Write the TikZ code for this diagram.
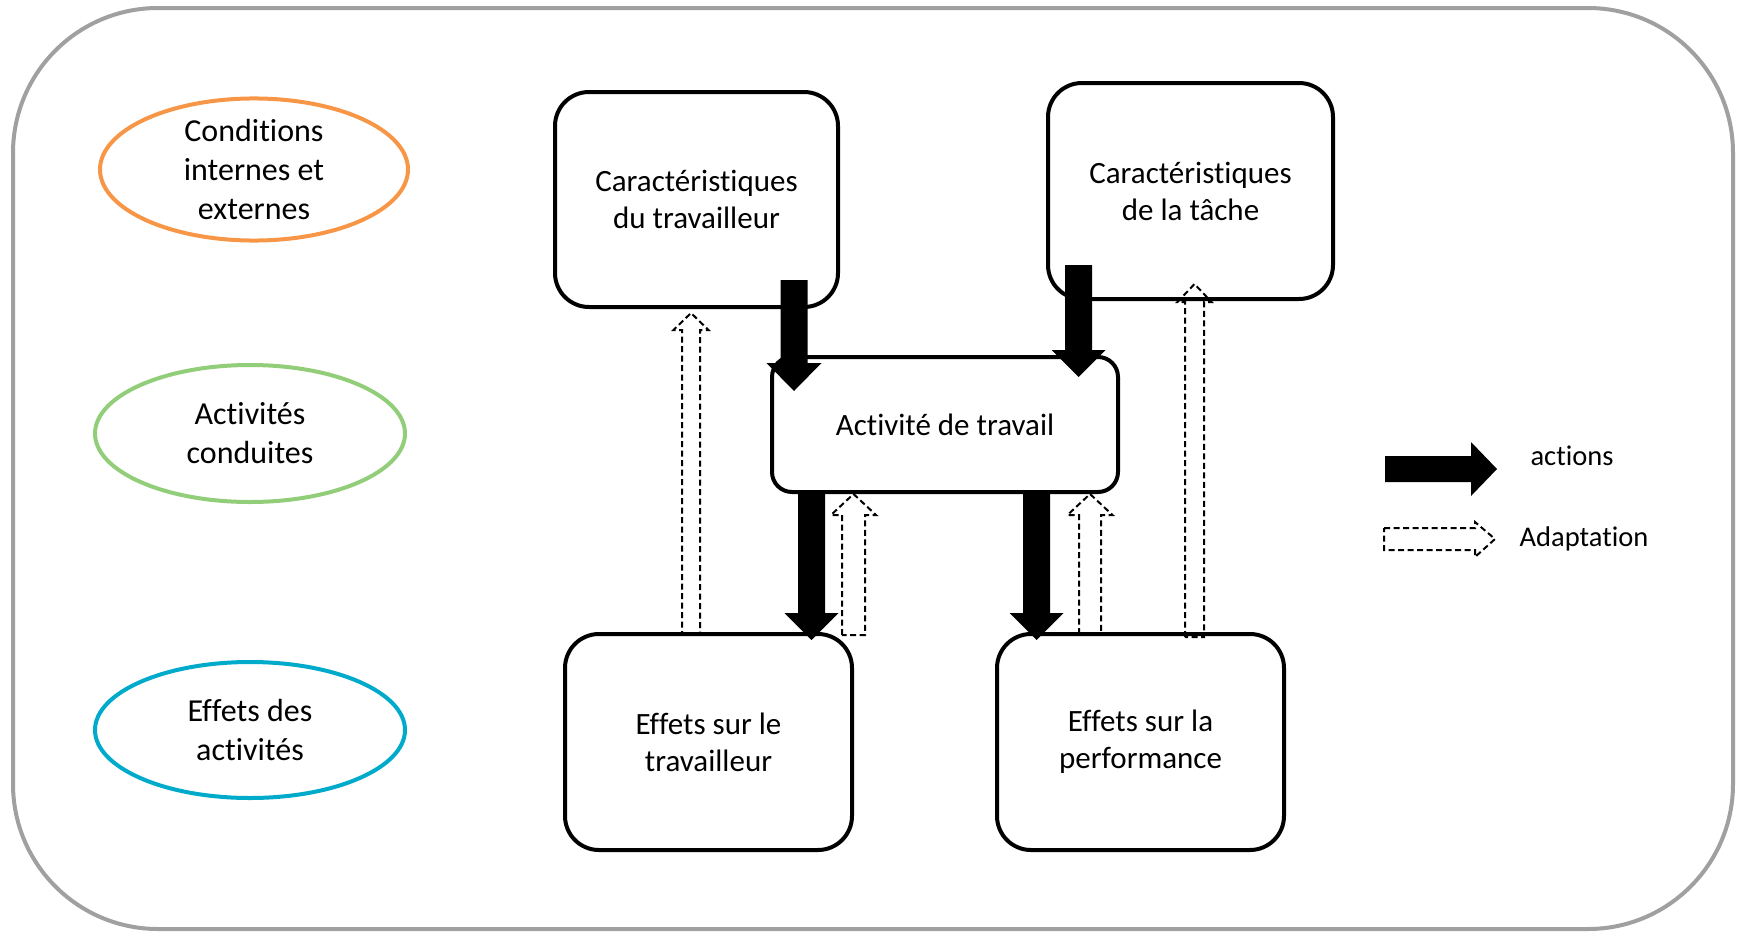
\documentclass[tikz,border=0pt]{standalone}
\usepackage{fontspec}
\setmainfont{Carlito}[Ligatures={NoCommon,NoRequired,NoContextual},RawFeature={-liga;-clig;-dlig;-calt}]
\usetikzlibrary{shapes.geometric}
\definecolor{condorange}{RGB}{247,150,70}
\definecolor{actgreen}{RGB}{146,206,122}
\definecolor{effblue}{RGB}{0,170,202}
\definecolor{framegray}{RGB}{160,160,160}
% zero kern to keep letter pairs unjoined
\newcommand{\brk}{\kern0pt }
% vertical block arrow: style, x centre, y tail, y tip, shaft half width, head half width, head length (negative for upward)
\newcommand{\vblock}[7]{%
  \draw[#1] ({#2-#5},#3) -- ({#2-#5},{#4-(#7)}) -- ({#2-#6},{#4-(#7)}) -- (#2,#4)
    -- ({#2+#6},{#4-(#7)}) -- ({#2+#5},{#4-(#7)}) -- ({#2+#5},#3) -- cycle;}
\begin{document}
\begin{tikzpicture}[x=1pt,y=-1pt,
  frame/.style={draw=framegray,line width=4pt,rounded corners=145pt},
  phase/.style={ellipse,line width=4pt,align=center,inner sep=0pt,
    font=\fontsize{32}{39}\selectfont},
  stepbox/.style={draw=black,line width=4pt,fill=white,rounded corners=34pt,
    align=center,inner sep=0pt,font=\fontsize{31}{37}\selectfont},
  actbox/.style={stepbox,rounded corners=20pt},
  action/.style={fill=black,draw=none},
  adapt/.style={draw=black,fill=white,line width=2pt,dash pattern=on 6pt off 3.5pt},
  legend/.style={anchor=base,font=\fontsize{28.5}{34}\selectfont}]
\useasboundingbox (0,0) rectangle (1741,932);

% outer frame
\draw[frame] (13,8) rectangle (1733,929);

% levels on the left
\node[phase,draw=condorange,minimum width=308,minimum height=135]
  (cond) at (254,169.5) {Condit\brk ions\\internes et\\externes};
\node[phase,draw=actgreen,minimum width=310,minimum height=137]
  (acts) at (250,433.5) {Act\brk ivités\\conduites};
\node[phase,draw=effblue,minimum width=310,minimum height=136]
  (effs) at (250,730) {Ef\brk fets des\\act\brk ivités};

% adaptation arrows (behind the boxes)
\vblock{adapt}{691}{637}{313}{9}{17.5}{-17}
\vblock{adapt}{853.5}{635}{494}{11.5}{22.5}{-21}
\vblock{adapt}{1090}{634}{494}{11}{22.5}{-21}

% boxes
\node[stepbox,minimum width=283,minimum height=215] (ctrav) at (696.5,199.5)
  {Caractérist\brk iques\\du travailleur};
\node[stepbox,minimum width=285,minimum height=216] (ctache) at (1190.5,191)
  {Caractérist\brk iques\\de la tâche};
\node[actbox,minimum width=346,minimum height=135] (act) at (945,424.5)
  {Act\brk ivité de travail};
\node[stepbox,minimum width=287,minimum height=216] (etrav) at (708.5,742)
  {Ef\brk fets sur le\\travailleur};
\node[stepbox,minimum width=287,minimum height=216] (eperf) at (1140.5,742)
  {Ef\brk fets sur la\\performance};

% long adaptation arrow into the task box, head crossing its border
\vblock{adapt,fill=none}{1194.5}{637}{284}{9.5}{17}{-18}

% action arrows (over the boxes)
\vblock{action}{794}{280}{391}{13.5}{27.5}{28}
\vblock{action}{1078.5}{265}{377}{13.5}{27}{27}
\vblock{action}{811.5}{494}{640}{13.5}{27}{27}
\vblock{action}{1036.5}{494}{640}{13.5}{27}{27}

% legend
\draw[action] (1385,456) -- (1471,456) -- (1471,442) -- (1497,469) -- (1471,496)
  -- (1471,482) -- (1385,482) -- cycle;
\draw[adapt] (1384,528) -- (1475,528) -- (1475,522) -- (1495,539) -- (1475,557)
  -- (1475,550) -- (1384,550) -- cycle;
\node[legend] (lact) at (1572,465) {act\brk ions};
\node[legend] (lada) at (1584,546) {Adaptat\brk ion};
\end{tikzpicture}
\end{document}
